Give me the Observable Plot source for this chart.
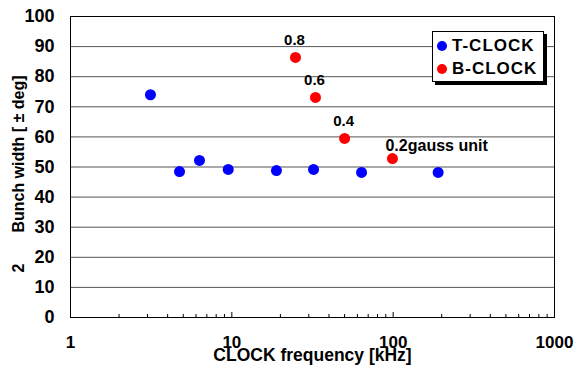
<!DOCTYPE html>
<html>
<head>
<meta charset="utf-8">
<script src="https://cdn.jsdelivr.net/npm/d3@7"></script>
<script src="https://cdn.jsdelivr.net/npm/@observablehq/plot@0.6"></script>
<style>
  body { margin: 0; background: #fff; }
  #wrap { position: relative; width: 575px; height: 369px; font-family: "Liberation Sans", Arial, sans-serif; font-weight: bold; }
  #legend { position: absolute; left: 432px; top: 31px; width: 110px; height: 49px; border: 1px solid #000; background: #fff; box-shadow: 3px 3px 0 #000; }
  .row { position: absolute; left: 4px; height: 20px; display: flex; align-items: center; font-size: 17px; letter-spacing: 1px; color: #000; }
  .dot { width: 10px; height: 10px; border-radius: 50%; margin-right: 5px; }
</style>
</head>
<body>
<div id="wrap"></div>
<script>
// ---- data ----
const tFreq  = [3.13, 4.74, 6.3, 9.5, 18.9, 32.1, 63.7, 190];
const tWidth = [74.0, 48.5, 52.2, 49.2, 48.8, 49.2, 48.2, 48.2];
const bFreq  = [24.8, 33.0, 50.0, 99.0];
const bWidth = [86.4, 73.1, 59.5, 52.8];
const bLabels = ["0.8", "0.6", "0.4", "0.2gauss unit"];
const seriesNames = ["T-CLOCK", "B-CLOCK"];
const seriesColors = ["#0000ff", "#ff0000"];
const yTicks = [0, 10, 20, 30, 40, 50, 60, 70, 80, 90, 100];
const xMajor = [1, 10, 100, 1000];
const xMinor = [2,3,4,5,6,7,8,9,20,30,40,50,60,70,80,90,200,300,400,500,600,700,800,900];
const xTitle = "CLOCK frequency [kHz]";
const yTitle = "Bunch width [ ± deg]";
const yTitleExtra = "2";

const tData = tFreq.map((f, i) => ({f, w: tWidth[i]}));
const bData = bFreq.map((f, i) => ({f, w: bWidth[i], label: bLabels[i]}));

const W = 575, H = 369, mL = 70, mR = 21, mT = 16, mB = 52;
const innerH = H - mT - mB;
const font = "'Liberation Sans', Arial, sans-serif";

const chart = Plot.plot({
  width: W, height: H,
  marginLeft: mL, marginRight: mR, marginTop: mT, marginBottom: mB,
  style: {fontFamily: font, fontWeight: "bold", color: "#000", background: "#fff", overflow: "visible"},
  x: {type: "log", domain: [1, 1000]},
  y: {domain: [0, 100]},
  marks: [
    Plot.ruleY(yTicks, {stroke: "#555", strokeWidth: 1}),
    Plot.frame({stroke: "#000", strokeWidth: 1}),
    Plot.tickX(xMinor, {x: d => d, stroke: "#000", insetTop: innerH - 3}),
    Plot.tickX(xMajor, {x: d => d, stroke: "#000", insetTop: innerH - 5}),
    Plot.axisY({ticks: yTicks, tickSize: 0, tickPadding: 16, fontSize: 18, label: null, tickFormat: d3.format("d")}),
    Plot.axisX({ticks: xMajor, tickSize: 0, tickPadding: 18, fontSize: 17, label: null, tickFormat: d3.format("d")}),
    Plot.dot(tData, {x: "f", y: "w", r: 5.5, fill: seriesColors[0]}),
    Plot.dot(bData, {x: "f", y: "w", r: 5.5, fill: seriesColors[1]}),
    Plot.text(bData.slice(0, 3), {x: "f", y: "w", text: "label", dy: -17, dx: -1, fontSize: 15, textAnchor: "middle", fill: "#000"}),
    Plot.text(bData.slice(3), {x: "f", y: "w", text: "label", dy: -13, dx: -7, fontSize: 16, textAnchor: "start", fill: "#000", letterSpacing: "0.3px"}),
    Plot.text([xTitle], {frameAnchor: "bottom", dy: 43, fontSize: 17.5, textAnchor: "middle", fill: "#000"}),
    Plot.text([yTitle], {frameAnchor: "left", dx: -52, dy: -13, rotate: -90, fontSize: 16, textAnchor: "middle", fill: "#000"}),
    Plot.text([yTitleExtra], {frameAnchor: "left", dx: -52, dy: 101, rotate: -90, fontSize: 16, textAnchor: "middle", fill: "#000"})
  ]
});

const wrap = document.getElementById("wrap");
wrap.appendChild(chart);

const legend = document.createElement("div");
legend.id = "legend";
seriesNames.forEach((name, i) => {
  const row = document.createElement("div");
  row.className = "row";
  row.style.top = (4 + i * 23) + "px";
  const dot = document.createElement("span");
  dot.className = "dot";
  dot.style.background = seriesColors[i];
  row.appendChild(dot);
  row.appendChild(document.createTextNode(name));
  legend.appendChild(row);
});
wrap.appendChild(legend);
</script>
</body>
</html>
